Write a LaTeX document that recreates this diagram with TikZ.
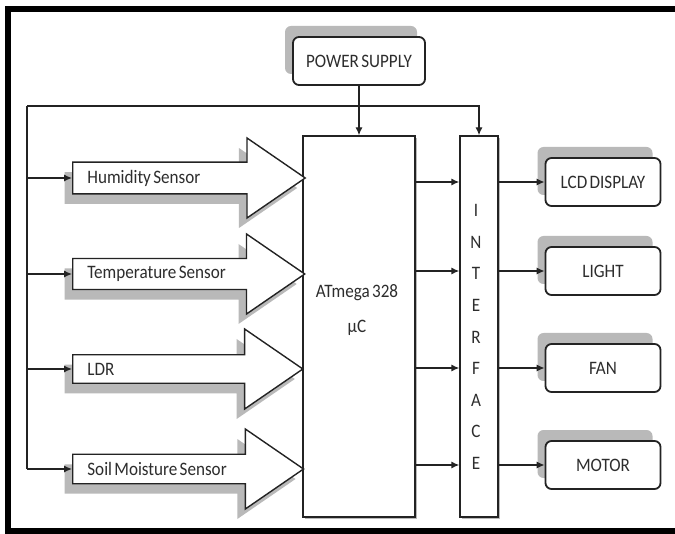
\documentclass[tikz,border=0pt]{standalone}
\usepackage{fontspec}
\setmainfont{Carlito}[FakeStretch=0.9, WordSpace=0.6]
\usetikzlibrary{shapes.arrows, shadows, arrows.meta}

\begin{document}
\begin{tikzpicture}[
    x=0.5pt, y=-0.5pt,
    every node/.style={font=\fontsize{9.5}{11}\selectfont, text=textgrey},
    line/.style={draw=linegrey, line width=0.7pt},
    arr/.style={line, -{Latex[length=4pt,width=3.6pt]}},
    sensor/.style={
        single arrow,
        draw=linegrey,
        line width=0.7pt,
        fill=white,
        single arrow head extend=9.75pt,
        single arrow tip angle=69,
        minimum width=40pt,
        text width=90pt,
        align=flush left,
        inner xsep=7pt,
        inner ysep=2pt,
        anchor=tail,
        drop shadow={shadow xshift=-4pt, shadow yshift=-5pt, fill=shadowgrey, opacity=1}
    },
    unit/.style={
        rectangle,
        rounded corners=3pt,
        draw=linegrey,
        line width=0.9pt,
        fill=white,
        minimum width=57.5pt,
        minimum height=24pt,
        align=center,
        drop shadow={shadow xshift=-4pt, shadow yshift=5.5pt, fill=shadowgrey, opacity=1}
    },
    block/.style={
        rectangle,
        draw=linegrey,
        line width=0.7pt,
        fill=white,
        minimum width=56pt,
        minimum height=190.5pt,
        drop shadow={shadow xshift=1.2pt, shadow yshift=-1.2pt, fill=shadowgrey, opacity=1}
    }
]

\definecolor{linegrey}{RGB}{35, 35, 35}
\definecolor{textgrey}{RGB}{45, 45, 45}
\definecolor{shadowgrey}{RGB}{185, 185, 185}

\useasboundingbox (0,0) rectangle (675,534);
\draw[line width=3pt] (675,9) -- (8,9) -- (8,531) -- (675,531);

\node[unit, minimum width=66pt] (psu) at (359,61) {POWER SUPPLY};

\node[block] (mcu) at (359,326.5) {};
\node[align=center, font=\fontsize{9.5}{17.5}\selectfont] (mculbl) at (357,310) {ATmega 328\\µC};
\node[block, minimum width=19pt] (iface) at (479,326.5) {};
\node[align=center, font=\fontsize{9.5}{15.8}\selectfont] (ifacelbl) at (476,337)
    {I\\N\\T\\E\\R\\F\\A\\C\\E};

\node[sensor] (hum)  at (72,178) {Humidity Sensor};
\node[sensor] (temp) at (72,274) {Temperature Sensor};
\node[sensor] (ldr)  at (72,369) {LDR};
\node[sensor] (soil) at (72,469) {Soil Moisture Sensor};

\node[unit] (lcd)   at (603,182) {LCD DISPLAY};
\node[unit] (light) at (603,271) {LIGHT};
\node[unit] (fan)   at (603,368) {FAN};
\node[unit] (motor) at (603,465) {MOTOR};

% supply lines
\coordinate (busl) at (27,106);
\draw[arr] (psu.south) -- (mcu.north);
\draw[arr] (busl) -- (busl -| iface.north) -- (iface.north);
\draw[line] (busl) -- (busl |- soil.tail);
\draw[arr] (busl |- hum.tail)  -- (hum.tail);
\draw[arr] (busl |- temp.tail) -- (temp.tail);
\draw[arr] (busl |- ldr.tail)  -- (ldr.tail);
\draw[arr] (busl |- soil.tail) -- (soil.tail);

% outputs
\draw[arr] (mcu.east |- lcd)   -- (iface.west |- lcd);
\draw[arr] (mcu.east |- light) -- (iface.west |- light);
\draw[arr] (mcu.east |- fan)   -- (iface.west |- fan);
\draw[arr] (mcu.east |- motor) -- (iface.west |- motor);
\draw[arr] (iface.east |- lcd)   -- (lcd.west);
\draw[arr] (iface.east |- light) -- (light.west);
\draw[arr] (iface.east |- fan)   -- (fan.west);
\draw[arr] (iface.east |- motor) -- (motor.west);

\end{tikzpicture}
\end{document}
